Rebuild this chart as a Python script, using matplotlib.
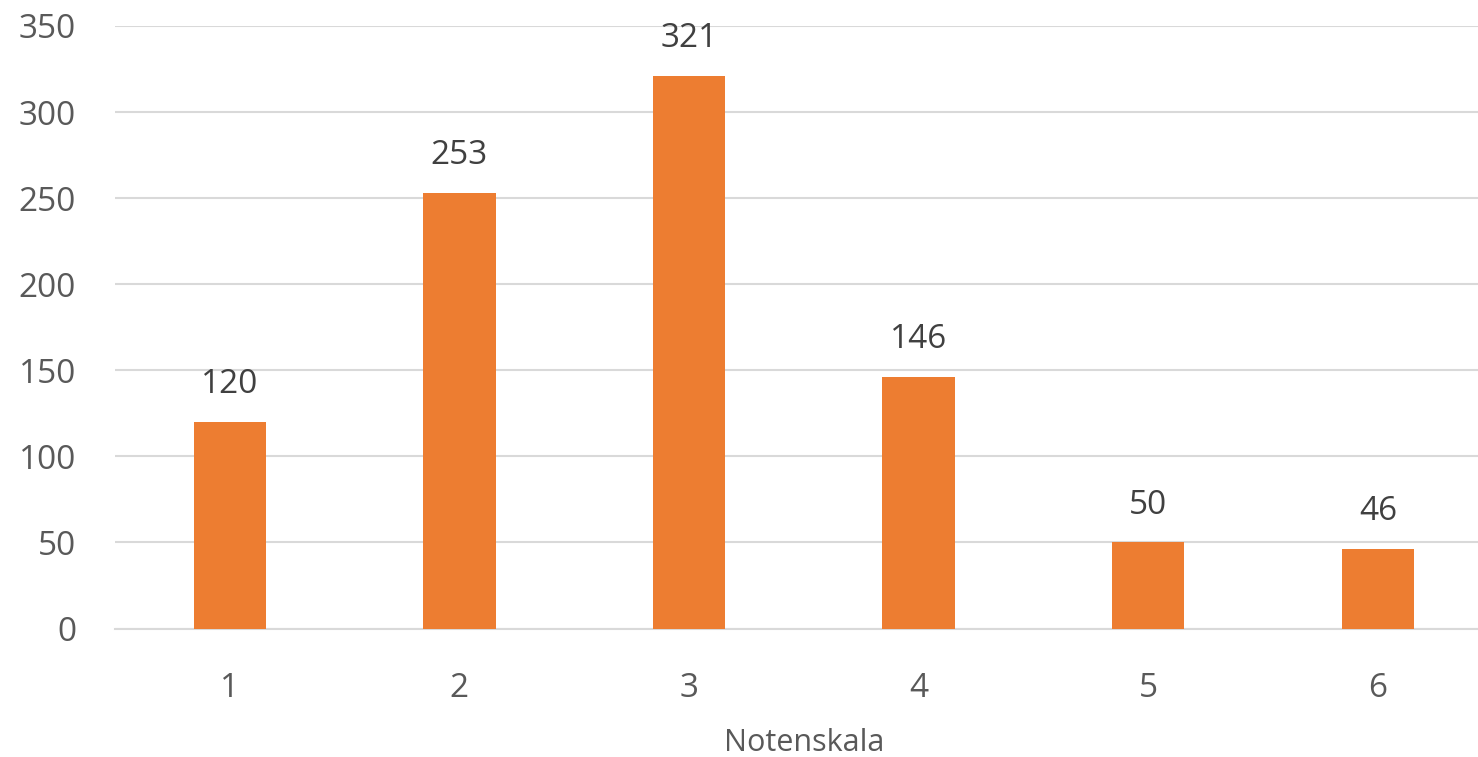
import matplotlib
matplotlib.use("Agg")
import matplotlib.pyplot as plt

categories = ["1", "2", "3", "4", "5", "6"]
values = [120, 253, 321, 146, 50, 46]
yticks = [0, 50, 100, 150, 200, 250, 300, 350]
xlabel = "Notenskala"

plt.rcParams['font.family'] = ['Open Sans', 'DejaVu Sans']

fig = plt.figure(figsize=(14.78, 7.57), dpi=100)
ax = fig.add_axes([115/1478, 1 - 628.5/757, 1 - 115/1478, (628.5 - 26)/757])

x = list(range(len(categories)))
ax.bar(x, values, width=0.315, color="#ED7D31", zorder=3)
for xi, v in zip(x, values):
    ax.annotate(str(v), (xi, v), xytext=(0, 15), textcoords="offset points",
                ha="center", va="bottom", fontsize=24, color="#404040")

ax.set_xlim(-0.5, 5.436)
ax.set_ylim(0, 350)
ax.set_yticks(yticks)
ax.set_xticks(x)
ax.set_xticklabels(categories)
ax.yaxis.grid(True, color="#D9D9D9", linewidth=1.5, zorder=0)
for s in ["top", "right", "left"]:
    ax.spines[s].set_visible(False)
ax.spines["bottom"].set_color("#D9D9D9")
ax.spines["bottom"].set_linewidth(1.5)
ax.tick_params(axis="both", length=0, labelsize=24, labelcolor="#595959")
ax.tick_params(axis="y", pad=28)
ax.tick_params(axis="x", pad=31)
ax.set_xlabel(xlabel, fontsize=22, color="#595959", labelpad=17)
ax.xaxis.label.set_x(0.5055)

fig.savefig("out.png", dpi=100)
